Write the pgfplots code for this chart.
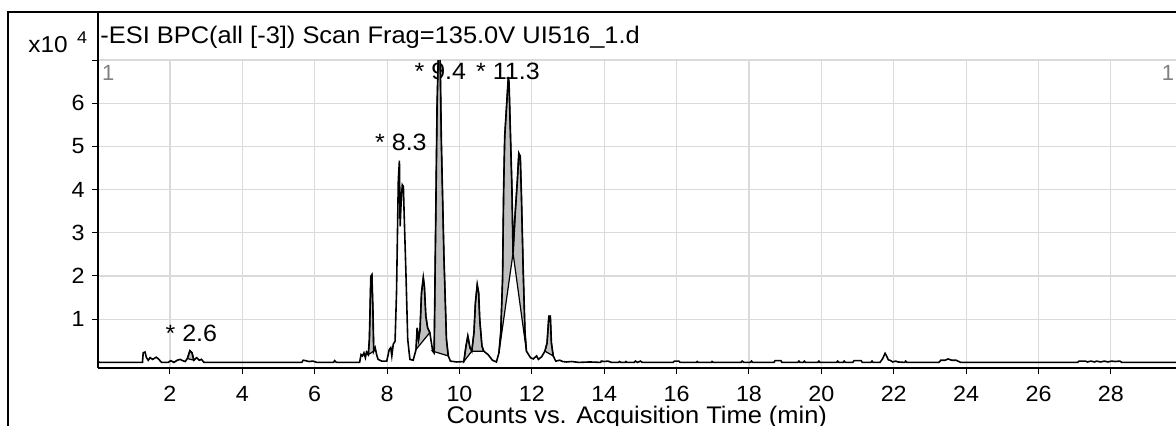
\documentclass[border=0pt]{standalone}
\usepackage{fontspec}
\setmainfont{Liberation Sans}
\newfontfamily\widefont[FakeStretch=1.06]{Liberation Sans}
\usepackage{pgfplots}
\pgfplotsset{compat=1.18}
\usepackage{pgfplotstable}

\definecolor{peakfill}{RGB}{192,192,192}
\definecolor{gridgray}{RGB}{218,218,218}
\definecolor{labelgray}{RGB}{128,128,128}

% base peak chromatogram, time (min) vs counts (x10^4)
\pgfplotstableread{
t v
0.00 0.03
0.05 0.00
1.24 0.00
1.26 0.22
1.31 0.24
1.35 0.11
1.40 0.05
1.45 0.11
1.52 0.07
1.62 0.12
1.68 0.08
1.77 0.00
1.95 0.00
2.02 0.04
2.11 0.00
2.20 0.05
2.28 0.07
2.35 0.04
2.42 0.02
2.48 0.09
2.55 0.27
2.61 0.22
2.66 0.05
2.74 0.11
2.81 0.05
2.87 0.07
2.94 0.00
5.64 0.00
5.68 0.05
5.75 0.04
5.84 0.02
5.95 0.03
6.06 0.00
6.52 0.00
6.55 0.04
6.60 0.00
7.24 0.00
7.28 0.18
7.32 0.15
7.36 0.22
7.40 0.11
7.43 0.24
7.48 0.18
7.51 0.53
7.55 1.99
7.58 2.03
7.61 1.15
7.63 0.26
7.67 0.34
7.71 0.18
7.75 0.07
7.85 0.03
7.99 0.03
8.06 0.30
8.10 0.34
8.13 0.15
8.17 0.42
8.22 0.49
8.26 1.61
8.31 4.23
8.34 4.67
8.36 3.15
8.39 3.76
8.42 4.11
8.45 4.07
8.47 3.46
8.52 2.07
8.57 0.53
8.63 0.07
8.72 0.05
8.80 0.30
8.83 0.80
8.87 0.53
8.91 0.76
8.95 1.61
9.00 1.96
9.03 1.76
9.07 1.07
9.12 0.80
9.18 0.69
9.26 0.26
9.30 0.22
9.34 3.07
9.38 5.92
9.42 7.30
9.46 7.30
9.50 5.07
9.57 2.46
9.64 0.53
9.69 0.15
9.75 0.03
9.92 0.01
10.12 0.02
10.18 0.38
10.23 0.61
10.29 0.34
10.34 0.26
10.40 0.69
10.44 1.38
10.49 1.80
10.53 1.61
10.56 0.99
10.62 0.38
10.67 0.26
10.79 0.18
10.91 0.05
11.02 0.01
11.09 0.22
11.14 0.69
11.19 1.92
11.22 4.00
11.25 5.23
11.30 5.92
11.35 6.61
11.37 6.46
11.41 5.23
11.45 4.00
11.48 2.53
11.54 3.46
11.60 4.23
11.64 4.84
11.68 4.77
11.71 3.92
11.76 2.15
11.81 0.69
11.85 0.26
11.91 0.18
11.96 0.11
12.04 0.08
12.13 0.15
12.18 0.07
12.27 0.13
12.36 0.26
12.42 0.45
12.47 1.07
12.51 1.07
12.54 0.45
12.59 0.15
12.66 0.03
12.77 0.05
12.85 0.02
12.96 0.01
13.10 0.02
13.30 0.00
13.60 0.01
13.90 0.00
13.92 0.03
14.00 0.02
14.10 0.03
14.20 0.00
14.40 0.00
14.42 0.02
14.47 0.00
14.58 0.00
14.60 0.02
14.63 0.00
14.83 0.00
14.86 0.03
14.92 0.00
15.00 0.03
15.05 0.00
15.90 0.00
15.94 0.03
16.06 0.03
16.10 0.00
16.55 0.00
16.57 0.02
16.60 0.00
16.96 0.00
16.98 0.02
17.01 0.00
17.78 0.00
17.81 0.03
17.86 0.00
18.04 0.00
18.07 0.03
18.10 0.00
18.69 0.00
18.72 0.04
18.88 0.04
18.91 0.00
19.35 0.00
19.38 0.03
19.41 0.00
19.50 0.00
19.53 0.03
19.56 0.00
19.90 0.00
19.93 0.03
19.96 0.00
20.42 0.00
20.45 0.03
20.48 0.00
20.60 0.00
20.63 0.03
20.66 0.00
20.87 0.00
20.90 0.04
21.10 0.04
21.13 0.00
21.37 0.00
21.40 0.03
21.43 0.00
21.62 0.00
21.69 0.08
21.76 0.21
21.80 0.15
21.85 0.06
21.92 0.04
21.97 0.01
22.05 0.03
22.12 0.01
22.30 0.00
22.33 0.03
22.36 0.00
23.25 0.00
23.30 0.05
23.42 0.05
23.50 0.08
23.60 0.05
23.72 0.05
23.80 0.02
23.85 0.00
27.08 0.00
27.12 0.03
27.30 0.03
27.35 0.01
27.45 0.03
27.55 0.01
27.60 0.03
27.72 0.01
27.82 0.03
27.92 0.01
28.02 0.03
28.12 0.02
28.25 0.03
28.30 0.00
29.80 0.00
}\bpc

\begin{document}
\begin{tikzpicture}
\begin{axis}[
  scale only axis,
  width=539.2pt, height=154pt,
  xmin=0, xmax=29.8,
  ymin=-0.13, ymax=7,
  axis x line*=bottom, axis y line*=left,
  axis line style={-, line width=1pt},
  xtick={2,4,...,28},
  ytick={1,2,...,7},
  yticklabels={1,2,3,4,5,6,{}},
  tick align=outside,
  major tick length=3pt,
  tick style={black, line width=0.5pt},
  grid=major,
  major grid style={gridgray, line width=0.6pt},
  /pgf/number format/assume math mode=true,
  tick label style={font=\widefont\fontsize{11}{12}\selectfont},
  xticklabel style={yshift=-2.5pt},
  xlabel={Counts vs. Acquisition Time (min)},
  xlabel style={font=\widefont\fontsize{12}{13}\selectfont, at={(rel axis cs:0.5,0)}, anchor=base, yshift=-27.5pt},
]
% peak labels
\node[anchor=base west, inner sep=0, font=\widefont\fontsize{11.8}{12}\selectfont] at (axis cs:1.87,0.49) {* 2.6};
\node[anchor=base west, inner sep=0, font=\widefont\fontsize{11.8}{12}\selectfont] at (axis cs:7.66,4.90) {* 8.3};
\node[anchor=base west, inner sep=0, font=\widefont\fontsize{11.8}{12}\selectfont] at (axis cs:8.75,6.56) {* 9.4};
\node[anchor=base west, inner sep=0, font=\widefont\fontsize{11.8}{12}\selectfont] at (axis cs:10.45,6.56) {* 11.3};

% integrated peaks
\addplot[fill=peakfill, draw=black, line width=0.6pt, restrict x to domain=2.475:2.665] table[x=t, y=v] {\bpc} -- cycle;
\addplot[fill=peakfill, draw=black, line width=0.6pt, restrict x to domain=7.475:7.635] table[x=t, y=v] {\bpc} -- cycle;
\addplot[fill=peakfill, draw=black, line width=0.6pt, restrict x to domain=8.795:9.185] table[x=t, y=v] {\bpc} -- cycle;
\addplot[fill=peakfill, draw=black, line width=0.6pt, restrict x to domain=9.255:9.695] table[x=t, y=v] {\bpc} -- cycle;
\addplot[fill=peakfill, draw=black, line width=0.6pt, restrict x to domain=10.115:10.345] table[x=t, y=v] {\bpc} -- cycle;
\addplot[fill=peakfill, draw=black, line width=0.6pt, restrict x to domain=10.335:10.675] table[x=t, y=v] {\bpc} -- cycle;
\addplot[fill=peakfill, draw=black, line width=0.6pt, restrict x to domain=11.085:11.485] table[x=t, y=v] {\bpc} -- cycle;
\addplot[fill=peakfill, draw=black, line width=0.6pt, restrict x to domain=11.475:11.855] table[x=t, y=v] {\bpc} -- cycle;
\addplot[fill=peakfill, draw=black, line width=0.6pt, restrict x to domain=12.355:12.595] table[x=t, y=v] {\bpc} -- cycle;

% full trace
\addplot[black, line width=0.8pt] table[x=t, y=v] {\bpc};
\end{axis}

% frame and header
\draw[line width=1pt] (-44.8pt,-30pt) -- (-44.8pt,178pt) -- (545pt,178pt);
\draw[line width=1pt] (0,0) -- (0,178pt);
\node[anchor=base west, inner sep=0, font=\widefont\fontsize{12}{14}\selectfont] at (1.2pt,162.5pt) {-ESI BPC(all [-3]) Scan Frag=135.0V UI516\_1.d};
\node[anchor=base west, inner sep=0, font=\widefont\fontsize{11.5}{12}\selectfont] at (-34.8pt,158pt) {x10};
\node[anchor=base west, inner sep=0, font=\widefont\fontsize{8.5}{10}\selectfont] at (-10.5pt,162.5pt) {4};
\node[anchor=base west, inner sep=0, text=labelgray, font=\fontsize{11}{12}\selectfont] at (2pt,144pt) {1};
\node[anchor=base east, inner sep=0, text=labelgray, font=\fontsize{11}{12}\selectfont] at (538.5pt,144pt) {1};

\pgfresetboundingbox
\path[use as bounding box] (-48.8pt,-28.5pt) rectangle (539.2pt,184pt);
\end{tikzpicture}
\end{document}
